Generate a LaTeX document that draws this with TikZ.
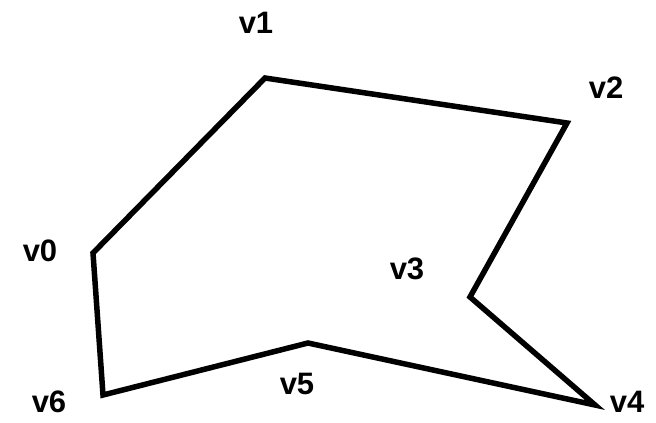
\documentclass[tikz,border=0pt]{standalone}
\usepackage{fontspec}
\setmainfont{Liberation Sans}
\begin{document}
\begin{tikzpicture}[x=1pt,y=-1pt,
  edge/.style={line width=5.5pt,line join=miter,black},
  lbl/.style={anchor=base,inner sep=0pt,font=\fontsize{31}{31}\selectfont\bfseries}]
\useasboundingbox (0,0) rectangle (656,423);
\coordinate (p0) at (93,253);
\coordinate (p1) at (265,78);
\coordinate (p2) at (567,123);
\coordinate (p3) at (470,297);
\coordinate (p4) at (595,405);
\coordinate (p5) at (308,343);
\coordinate (p6) at (103,395);
\draw[edge] (p0) -- (p1) -- (p2) -- (p3) -- (p4) -- (p5) -- (p6) -- cycle;
\node[lbl] (l1) at (256,33) {v1};
\node[lbl] (l2) at (606,98) {v2};
\node[lbl] (l0) at (40,261) {v0};
\node[lbl] (l3) at (407,279) {v3};
\node[lbl] (l5) at (297,394) {v5};
\node[lbl] (l6) at (49,412) {v6};
\node[lbl] (l4) at (627,412) {v4};
\end{tikzpicture}
\end{document}
